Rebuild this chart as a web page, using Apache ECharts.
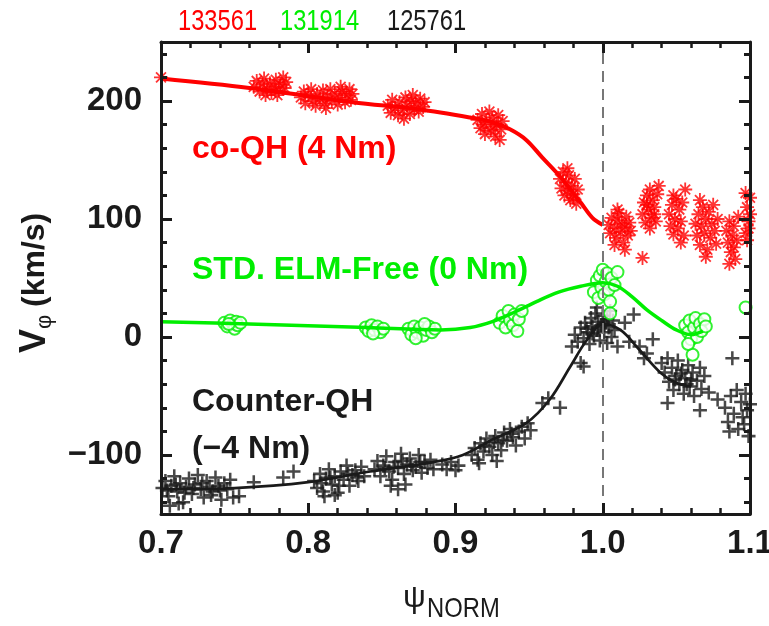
<!DOCTYPE html>
<html><head><meta charset="utf-8">
<script src="https://cdn.jsdelivr.net/npm/echarts@6/dist/echarts.min.js"></script>
<style>html,body{margin:0;padding:0;background:#fff;overflow:hidden}
#wrap{position:relative;width:769px;height:626px}
#s,#ax{position:absolute;left:0;top:0;width:769px;height:626px}
#ax{pointer-events:none}</style>
</head><body><div id="wrap"><div id="s"></div><div id="ax"></div></div>
<script>
// ---------- data ----------
const shotLabels = ['133561', '131914', '125761'];
const xMin = 0.7, xMax = 1.1, xStep = 0.1;
const yMin = -150, yMax = 250;
const yMajorTicks = [-100, 0, 100, 200];
const yMinorTicks = [-140, -120, -80, -60, -40, -20, 20, 40, 60, 80, 120, 140, 160, 180, 220, 240];
const separatrix = 1.0;

// co-QH (red asterisks)
const redPoints = [
  [0.700,220],
  [0.763,212],[0.765,217],[0.767,208],[0.769,214],[0.770,219],[0.772,210],[0.774,215],[0.775,207],[0.777,212],[0.778,218],[0.780,209],[0.781,214],[0.783,220],[0.784,211],[0.785,216],[0.779,205],[0.771,205],
  [0.795,203],[0.797,208],[0.798,198],[0.800,205],[0.802,210],[0.803,200],[0.805,196],[0.806,206],[0.808,202],[0.810,209],[0.811,198],[0.813,204],[0.815,210],[0.816,200],[0.818,206],[0.820,197],[0.821,203],[0.823,208],[0.825,199],[0.826,205],[0.828,210],[0.829,201],[0.830,206],[0.812,194],[0.822,212],
  [0.854,196],[0.856,190],[0.857,201],[0.859,194],[0.861,188],[0.862,199],[0.864,192],[0.866,203],[0.867,196],[0.869,189],[0.870,200],[0.872,193],[0.873,198],[0.875,191],[0.876,202],[0.878,195],[0.879,199],[0.865,185],[0.871,205],
  [0.915,184],[0.917,177],[0.918,189],[0.920,172],[0.921,182],[0.923,191],[0.924,175],[0.925,186],[0.927,170],[0.928,180],[0.929,188],[0.931,176],[0.932,183],[0.926,178],[0.919,180],[0.930,167],
  [0.971,134],[0.972,126],[0.973,140],[0.974,120],[0.975,131],[0.976,124],[0.977,137],[0.978,116],[0.979,128],[0.980,121],[0.981,134],[0.982,113],[0.983,125],[0.976,143],[0.980,118],
  [1.004,95],[1.005,88],[1.006,101],[1.008,92],[1.009,84],[1.010,99],[1.011,105],[1.012,89],[1.013,96],[1.014,80],[1.015,93],[1.016,102],[1.017,86],[1.018,97],[1.019,90],[1.008,78],[1.015,74],
  [1.010,108],[1.027,67],[1.056,125],
  [1.027,104],[1.028,114],[1.029,97],[1.030,120],[1.031,108],[1.032,125],[1.033,101],[1.034,116],[1.035,110],[1.036,98],[1.037,121],[1.032,92],[1.030,112],[1.035,104],[1.038,128],
  [1.045,104],[1.046,94],[1.047,112],[1.048,87],[1.049,100],[1.050,117],[1.051,92],[1.052,108],[1.053,98],[1.054,114],[1.055,86],[1.048,120],[1.053,80],
  [1.063,96],[1.064,86],[1.065,104],[1.066,78],[1.067,94],[1.068,110],[1.069,88],[1.070,100],[1.071,74],[1.072,106],[1.073,84],[1.074,96],[1.075,112],[1.076,90],[1.077,79],[1.078,100],[1.070,68],[1.066,116],
  [1.084,90],[1.085,80],[1.086,98],[1.087,72],[1.088,86],[1.089,94],[1.090,66],[1.091,82],[1.092,102],[1.089,76],[1.086,62],
  [1.097,88],[1.098,110],[1.099,98],[1.100,118],[1.098,82],[1.100,104],[1.099,92],[1.097,122]
];
// STD. ELM-Free (green circles)
const greenPoints = [
  [0.743,12],[0.745,9],[0.747,14],[0.749,11],[0.750,7],[0.751,13],[0.752,10],[0.754,12],[0.746,11],
  [0.839,8],[0.841,5],[0.843,10],[0.845,6],[0.847,9],[0.849,4],[0.851,7],[0.844,3],
  [0.868,7],[0.870,2],[0.872,9],[0.874,4],[0.876,8],[0.878,1],[0.880,6],[0.882,9],[0.884,4],[0.886,7],[0.873,-1],[0.879,11],
  [0.930,12],[0.932,18],[0.934,8],[0.936,22],[0.937,14],[0.939,10],[0.940,19],[0.942,5],[0.943,15],[0.945,22],
  [0.994,38],[0.996,48],[0.997,33],[0.998,52],[0.999,42],[1.000,57],[1.001,36],[1.002,47],[1.003,54],[1.004,40],[1.006,50],[1.008,44],[1.010,55],[1.005,30],[1.005,20],
  [1.056,10],[1.058,4],[1.059,14],[1.060,-2],[1.062,8],[1.063,16],[1.064,0],[1.066,11],[1.067,5],[1.069,15],[1.070,9],[1.061,-15],[1.058,-6],
  [1.097,25]
];
// Counter-QH (black crosses)
const blackPoints = [
  [0.701,-128],[0.703,-122],[0.705,-135],[0.707,-126],[0.709,-118],[0.711,-131],[0.713,-124],[0.715,-140],[0.717,-127],[0.719,-120],[0.721,-133],[0.723,-125],[0.725,-117],[0.727,-129],[0.729,-136],[0.731,-122],[0.733,-127],[0.735,-131],[0.737,-119],[0.739,-126],[0.741,-138],[0.743,-124],[0.745,-129],[0.747,-121],[0.706,-143],[0.712,-141],
  [0.704,-130],[0.710,-125],[0.716,-132],[0.722,-128],[0.728,-124],[0.734,-134],[0.740,-130],
  [0.749,-136],[0.753,-135],[0.763,-123],[0.783,-119],[0.790,-114],
  [0.804,-122],[0.806,-128],[0.808,-116],[0.810,-131],[0.812,-120],[0.814,-112],[0.816,-125],[0.818,-118],[0.820,-132],[0.822,-114],[0.824,-121],[0.826,-109],[0.828,-126],[0.830,-117],[0.832,-113],[0.834,-122],[0.836,-110],[0.838,-118],[0.811,-135],[0.818,-134],
  [0.809,-124],[0.815,-119],[0.821,-126],[0.827,-116],[0.833,-119],
  [0.845,-112],[0.847,-105],[0.849,-118],[0.851,-109],[0.853,-101],[0.855,-114],[0.857,-121],[0.859,-106],[0.861,-111],[0.863,-99],[0.865,-116],[0.867,-108],[0.869,-103],[0.871,-113],[0.873,-110],[0.875,-100],[0.877,-115],[0.879,-106],[0.881,-111],[0.883,-104],[0.885,-112],[0.856,-126],[0.861,-129],[0.866,-125],
  [0.852,-111],[0.858,-110],[0.864,-105],[0.870,-109],[0.876,-106],
  [0.891,-108],[0.894,-112],[0.897,-106],[0.900,-113],[0.902,-109],
  [0.911,-100],[0.913,-94],[0.915,-104],[0.917,-90],[0.919,-97],[0.921,-86],[0.923,-93],[0.925,-100],[0.927,-84],[0.929,-90],[0.931,-96],[0.933,-81],[0.935,-88],[0.937,-78],[0.939,-85],[0.941,-92],[0.943,-80],[0.945,-76],[0.947,-86],[0.949,-73],[0.951,-79],[0.916,-107],[0.928,-105],
  [0.920,-92],[0.926,-89],[0.932,-87],[0.938,-82],
  [0.959,-56],[0.963,-52],[0.971,-60],[0.987,-25],[0.985,-22],
  [0.979,-8],[0.981,2],[0.983,-4],[0.985,8],[0.987,-1],[0.988,12],[0.990,4],[0.991,-6],[0.992,16],[0.993,9],[0.994,1],[0.995,20],[0.996,6],[0.997,13],[0.998,-3],[0.999,10],[1.000,18],[1.001,4],[1.002,12],[1.003,-5],[1.004,8],[1.005,22],[1.006,0],[1.007,14],[1.008,6],[1.010,-8],[0.996,25],
  [0.989,7],[0.993,3],[0.997,8],[1.001,10],[1.003,15],
  [1.015,12],[1.021,19],[1.018,-4],[1.025,-8],[1.034,-2],[1.028,-18],[1.030,-14],
  [1.040,-22],[1.042,-30],[1.044,-18],[1.045,-38],[1.047,-26],[1.048,-45],[1.050,-33],[1.051,-20],[1.052,-40],[1.054,-28],[1.055,-48],[1.056,-35],[1.058,-24],[1.059,-42],[1.061,-30],[1.062,-50],[1.064,-37],[1.066,-26],[1.067,-44],[1.069,-33],[1.044,-56],[1.066,-62],[1.078,-53],[1.072,-47],
  [1.049,-36],[1.053,-31],[1.057,-40],[1.060,-36],
  [1.088,-18],
  [1.083,-60],[1.085,-72],[1.087,-50],[1.089,-65],[1.091,-45],[1.092,-78],[1.094,-55],[1.095,-68],[1.097,-48],[1.098,-62],[1.099,-84],[1.100,-57],[1.096,-74],[1.086,-80]
];
// fitted profiles
const redFit = [[0.70,219],[0.76,211],[0.83,199],[0.875,193],[0.91,186],[0.925,182],[0.937,176],[0.948,167],[0.959,152],[0.971,136],[0.978,125],[0.985,114],[0.993,101],[1.0,95]];
const greenFit = [[0.70,13],[0.76,11],[0.84,8],[0.89,6],[0.91,8],[0.925,13],[0.94,21],[0.955,30],[0.97,38],[0.985,43],[1.0,46],[1.01,43],[1.02,34],[1.03,23],[1.04,14],[1.05,6],[1.06,2],[1.068,5]];
const blackFit = [[0.70,-129],[0.75,-128],[0.80,-123],[0.842,-114],[0.885,-106],[0.905,-100],[0.925,-87],[0.948,-73],[0.964,-53],[0.978,-25],[0.989,-3],[1.0,11],[1.012,6],[1.025,-11],[1.039,-30],[1.05,-39],[1.06,-42]];

// ---------- chart ----------
const RED = '#ff0000', GREEN = '#00ee00', BLACK = '#1a1a1a';
const FONT = 'Liberation Sans';
const CLEAR = 'rgba(0,0,0,0)';
const ASTER = 'path://M0 8.7L20 8.7L20 11.3L0 11.3ZM8.7 0L11.3 0L11.3 20L8.7 20ZM3.85 2.01L17.99 16.15L16.15 17.99L2.01 3.85ZM16.15 2.01L17.99 3.85L3.85 17.99L2.01 16.15Z';
const PLUS = 'path://M0 8.2L20 8.2L20 11.8L0 11.8ZM8.2 0L11.8 0L11.8 20L8.2 20Z';

function line(vis) { return {show: vis, onZero: false, lineStyle: {color: BLACK, width: 3}}; }
function xAx(pos, labels, vis) {
  return {
    type: 'value', min: xMin, max: xMax, interval: xStep, position: pos,
    axisLine: line(vis),
    axisTick: {show: vis, inside: true, length: 11, lineStyle: {color: BLACK, width: 3}},
    minorTick: {show: vis, splitNumber: 5, length: 6, lineStyle: {color: BLACK, width: 2.5}},
    splitLine: {show: false}, minorSplitLine: {show: false},
    axisLabel: {show: labels, margin: 13, fontSize: 33, fontWeight: 'bold', color: vis ? BLACK : CLEAR, fontFamily: FONT,
      formatter: v => v.toFixed(1)}
  };
}
function yAx(pos, ticks, len, labels, ln, vis) {
  return {
    type: 'value', min: yMin, max: yMax, position: pos,
    axisLine: line(ln && vis),
    axisTick: {show: vis, inside: true, length: len, customValues: ticks, lineStyle: {color: BLACK, width: 3}},
    splitLine: {show: false},
    axisLabel: {show: labels, customValues: ticks, margin: 19, fontSize: 33, fontWeight: 'bold', color: vis ? BLACK : CLEAR, fontFamily: FONT,
      formatter: v => v < 0 ? '\u2212' + Math.abs(v) : String(v)}
  };
}
function axes(vis) {
  return {
    animation: false,
    title: {text: ' ', left: 0, top: 0, textStyle: {fontSize: 2, color: CLEAR}},
    grid: {left: 161, right: 19, top: 42, bottom: 112, outerBoundsMode: 'none'},
    xAxis: [xAx('bottom', true, vis), xAx('top', false, vis)],
    yAxis: [
      yAx('left', yMajorTicks, 11, true, true, vis),
      yAx('left', yMinorTicks, 6, false, false, vis),
      yAx('right', yMajorTicks, 11, false, true, vis),
      yAx('right', yMinorTicks, 6, false, false, vis)
    ]
  };
}

// data layer: series + annotations, drawn through (hidden) copies of the same axes
const dataOption = axes(false);
dataOption.series = [
  {type: 'scatter', data: blackPoints, symbol: PLUS, symbolSize: 14, itemStyle: {color: BLACK}, silent: true},
  {type: 'line', data: blackFit, smooth: 0.35, showSymbol: false, symbol: 'none', lineStyle: {color: BLACK, width: 2.7}, silent: true},
  {type: 'scatter', data: greenPoints, symbol: 'emptyCircle', symbolSize: 12, itemStyle: {color: GREEN, borderColor: GREEN, borderWidth: 1.4}, silent: true},
  {type: 'line', data: greenFit, smooth: 0.35, showSymbol: false, symbol: 'none', lineStyle: {color: GREEN, width: 3.5}, silent: true},
  {type: 'scatter', data: redPoints, symbol: ASTER, symbolSize: 14, itemStyle: {color: RED}, silent: true},
  {type: 'line', data: redFit, smooth: 0.35, showSymbol: false, symbol: 'none', lineStyle: {color: RED, width: 4}, silent: true,
    markLine: {silent: true, symbol: 'none', label: {show: false},
      lineStyle: {color: '#777', width: 2, type: [11, 7]}, data: [{xAxis: separatrix}]}}
];
dataOption.graphic = [
  {type: 'text', x: 178, y: 22, scaleX: 0.79, style: {text: shotLabels[0], fill: RED, font: '30px ' + FONT, align: 'left', verticalAlign: 'middle'}},
  {type: 'text', x: 280, y: 22, scaleX: 0.79, style: {text: shotLabels[1], fill: GREEN, font: '30px ' + FONT, align: 'left', verticalAlign: 'middle'}},
  {type: 'text', x: 387, y: 22, scaleX: 0.79, style: {text: shotLabels[2], fill: BLACK, font: '30px ' + FONT, align: 'left', verticalAlign: 'middle'}},
  {type: 'text', x: 192, y: 149, style: {text: 'co-QH (4 Nm)', fill: RED, font: 'bold 32px ' + FONT, align: 'left', verticalAlign: 'middle'}},
  {type: 'text', x: 192, y: 270, style: {text: 'STD. ELM-Free (0 Nm)', fill: GREEN, font: 'bold 32px ' + FONT, align: 'left', verticalAlign: 'middle'}},
  {type: 'text', x: 192, y: 402, style: {text: 'Counter-QH', fill: BLACK, font: 'bold 32px ' + FONT, align: 'left', verticalAlign: 'middle'}},
  {type: 'text', x: 192, y: 449, style: {text: '(\u22124 Nm)', fill: BLACK, font: 'bold 32px ' + FONT, align: 'left', verticalAlign: 'middle'}},
  {type: 'group', x: 35, y: 283, rotation: Math.PI / 2, children: [
    {type: 'text', x: -70, y: 0, style: {text: 'V', fill: BLACK, font: 'bold 36px ' + FONT, align: 'left', verticalAlign: 'middle'}},
    {type: 'text', x: -46, y: 10, style: {text: '\u03c6', fill: BLACK, font: '22px ' + FONT, align: 'left', verticalAlign: 'middle'}},
    {type: 'text', x: -24, y: 0, style: {text: '(km/s)', fill: BLACK, font: 'bold 32px ' + FONT, align: 'left', verticalAlign: 'middle'}}
  ]},
  {type: 'text', x: 403, y: 598, style: {text: '\u03c8', fill: BLACK, font: '32px ' + FONT, align: 'left', verticalAlign: 'middle'}},
  {type: 'text', x: 427, y: 609, scaleX: 0.85, style: {text: 'NORM', fill: BLACK, font: '28px ' + FONT, align: 'left', verticalAlign: 'middle'}}
];
const dataChart = echarts.init(document.getElementById('s'));
dataChart.setOption(dataOption);

// frame layer: the same axes, visible, with all ticks and labels
const frameOption = axes(true);
frameOption.series = [];
const frameChart = echarts.init(document.getElementById('ax'));
frameChart.setOption(frameOption);
setTimeout(function () { frameChart.resize(); dataChart.resize(); }, 30);
</script>
</body></html>
